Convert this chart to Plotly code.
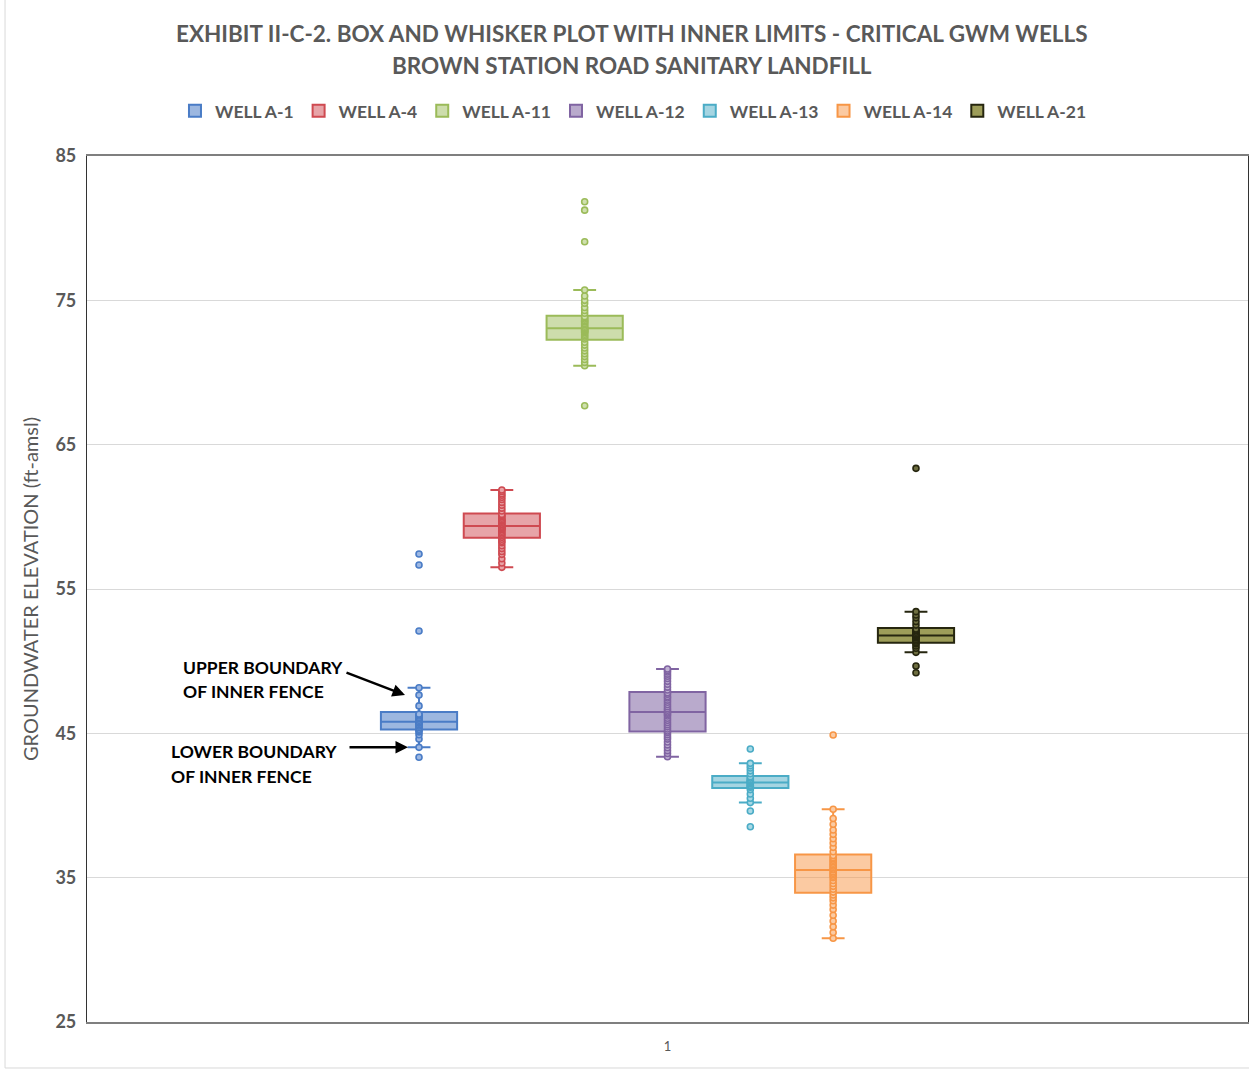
import plotly.graph_objects as go

# Groundwater elevation readings (ft-amsl) for each critical GWM well
well_names = ["WELL A-1", "WELL A-4", "WELL A-11", "WELL A-12",
              "WELL A-13", "WELL A-14", "WELL A-21"]
category = ["1"]

well_a1 = [43.34, 44.03, 44.6, 44.9, 45.1, 45.2, 45.28, 45.4, 45.5, 45.6, 45.7,
           45.75, 45.8, 45.9, 46.0, 46.1, 46.2, 46.3, 46.33, 46.9, 47.65,
           48.16, 52.09, 56.66, 57.42]
well_a4 = [56.5, 56.8, 57.1, 57.4, 57.6, 57.8, 58.0, 58.2, 58.3, 58.45, 58.58,
           58.7, 58.8, 58.9, 59.0, 59.1, 59.15, 59.2, 59.25, 59.3, 59.36,
           59.45, 59.5, 59.6, 59.7, 59.75, 59.8, 59.9, 60.0, 60.1, 60.17,
           60.4, 60.6, 60.8, 61.0, 61.2, 61.35, 61.5, 61.6, 61.75, 61.86]
well_a11 = [67.7, 70.47, 70.7, 70.9, 71.1, 71.3, 71.5, 71.7, 71.9, 72.1, 72.32,
            72.45, 72.55, 72.65, 72.75, 72.8, 72.85, 72.9, 72.95, 73.0, 73.06,
            73.1, 73.2, 73.3, 73.4, 73.5, 73.55, 73.6, 73.7, 73.8, 73.87,
            74.1, 74.3, 74.5, 74.8, 75.0, 75.3, 75.72, 79.06, 81.25, 81.83]
well_a12 = [43.38, 43.6, 43.8, 44.0, 44.2, 44.4, 44.6, 44.75, 44.9, 45.05, 45.16,
            45.3, 45.45, 45.6, 45.75, 45.9, 46.05, 46.2, 46.3, 46.4, 46.48,
            46.6, 46.7, 46.85, 47.0, 47.15, 47.3, 47.45, 47.55, 47.7, 47.81,
            48.0, 48.2, 48.4, 48.6, 48.8, 48.95, 49.1, 49.25, 49.35, 49.46]
well_a13 = [38.53, 39.62, 40.2, 40.5, 40.8, 41.1, 41.26, 41.3, 41.35, 41.4, 41.5,
            41.55, 41.6, 41.65, 41.7, 41.75, 41.8, 41.9, 42.0, 42.2, 42.4,
            42.6, 42.75, 42.92, 43.91]
well_a14 = [30.8, 31.2, 31.6, 32.0, 32.4, 32.8, 33.1, 33.4, 33.6, 33.8, 34.0,
            34.2, 34.4, 34.6, 34.8, 35.0, 35.1, 35.2, 35.3, 35.4, 35.53,
            35.6, 35.7, 35.8, 35.9, 36.0, 36.1, 36.2, 36.3, 36.4, 36.53,
            36.8, 37.1, 37.4, 37.7, 38.0, 38.3, 38.7, 39.1, 39.74, 44.88]
well_a21 = [49.2, 49.66, 50.61, 50.9, 51.05, 51.2, 51.3, 51.4, 51.5, 51.6, 51.65,
            51.7, 51.77, 51.85, 51.9, 52.0, 52.1, 52.15, 52.23, 52.5, 52.75,
            53.0, 53.2, 53.43, 63.36]

well_values = [well_a1, well_a4, well_a11, well_a12, well_a13, well_a14, well_a21]

y_ticks = [25, 35, 45, 55, 65, 75, 85]

line_colors = ["#4A7CC6", "#CF4A51", "#9BBB59", "#8064A2", "#4BACC6", "#F79646", "#26260F"]
fill_colors = ["rgba(74,124,198,0.55)", "rgba(207,74,81,0.5)", "rgba(155,187,89,0.5)",
               "rgba(128,100,162,0.55)", "rgba(75,172,198,0.5)", "rgba(247,150,70,0.5)",
               "rgba(140,140,60,0.85)"]
point_fills = ["#9DB8E3", "#E9A3A7", "#CFE0AE", "#C0B1D3", "#A8D9E6", "#FBCBA3", "#6E6E40"]

GREY = "#595959"

fig = go.Figure()
for name, vals, lc, fc, pf in zip(well_names, well_values, line_colors, fill_colors, point_fills):
    fig.add_trace(go.Box(
        name=name,
        x=category * len(vals),
        y=vals,
        boxpoints="all",
        jitter=0,
        pointpos=0,
        whiskerwidth=0.3,
        line=dict(color=lc, width=2),
        fillcolor=fc,
        marker=dict(color=pf, size=6, line=dict(color=lc, width=1.6)),
        hoverinfo="y",
    ))

fig.update_layout(
    width=1249,
    height=1072,
    margin=dict(l=87, r=1, t=156, b=50),
    paper_bgcolor="white",
    plot_bgcolor="white",
    boxmode="group",
    boxgap=0.498,
    boxgroupgap=0.08,
    font=dict(family="Lato, 'Open Sans', sans-serif", color=GREY),
    showlegend=True,
    legend=dict(
        orientation="h",
        x=0.4707, xanchor="center",
        y=1.052, yanchor="middle",
        font=dict(size=17.5, color=GREY, family="Lato", weight="bold"),
        itemwidth=30,
        tracegroupgap=0,
    ),
    xaxis=dict(
        type="category",
        showgrid=False,
        showline=True, mirror=True, linecolor="#7F7F7F", linewidth=1.5,
        tickfont=dict(size=13, color=GREY),
        ticks="",
        ticklabelstandoff=12,
    ),
    yaxis=dict(
        range=[25, 85],
        tickvals=y_ticks,
        showgrid=True, gridcolor="#D9D9D9", gridwidth=1,
        showline=True, mirror=True, linecolor="#333333", linewidth=1.2,
        zeroline=False,
        ticks="",
        ticklabelstandoff=6,
        tickfont=dict(size=18, color=GREY, family="Lato", weight="bold"),
        title=dict(text="GROUNDWATER ELEVATION (ft-amsl)",
                   font=dict(size=20, color=GREY, family="Lato"), standoff=11),
    ),
)

# Two-line heading
fig.add_annotation(text="<b>EXHIBIT II-C-2. BOX AND WHISKER PLOT WITH INNER LIMITS - CRITICAL GWM WELLS</b>",
                   xref="paper", yref="paper", x=0.4694, y=1.142, xanchor="center", yanchor="middle",
                   showarrow=False, font=dict(size=22.5, color=GREY, family="Lato"))
fig.add_annotation(text="<b>BROWN STATION ROAD SANITARY LANDFILL</b>",
                   xref="paper", yref="paper", x=0.4694, y=1.105, xanchor="center", yanchor="middle",
                   showarrow=False, font=dict(size=22.5, color=GREY, family="Lato"))

# Callouts pointing at the whisker caps of WELL A-1
label_font = dict(size=17.5, color="black", family="Lato", weight="bold")
callouts = [("UPPER BOUNDARY", 0.0810, 667), ("OF INNER FENCE", 0.0810, 692),
            ("LOWER BOUNDARY", 0.0706, 751), ("OF INNER FENCE", 0.0706, 776)]
for txt, xp, ypx in callouts:
    fig.add_annotation(text=txt, xref="paper", yref="paper", x=xp, y=(1022 - ypx) / 866,
                       xanchor="left", yanchor="middle", showarrow=False, font=label_font)

fig.add_annotation(text="", xref="paper", yref="y", x=0.2739, y=47.65,
                   ax=-60, ay=-23, showarrow=True, arrowhead=2, arrowsize=1,
                   arrowwidth=2.5, arrowcolor="black")
fig.add_annotation(text="", xref="paper", yref="y", x=0.2765, y=44.03,
                   ax=-60, ay=0, showarrow=True, arrowhead=2, arrowsize=1,
                   arrowwidth=2.5, arrowcolor="black")

# Faint chart-area frame
fig.add_shape(type="rect", xref="paper", yref="paper", x0=-0.0706, x1=1.05, y0=-0.0531, y1=1.3,
              line=dict(color="#D9D9D9", width=1), layer="below")

fig.write_html("out.html")
